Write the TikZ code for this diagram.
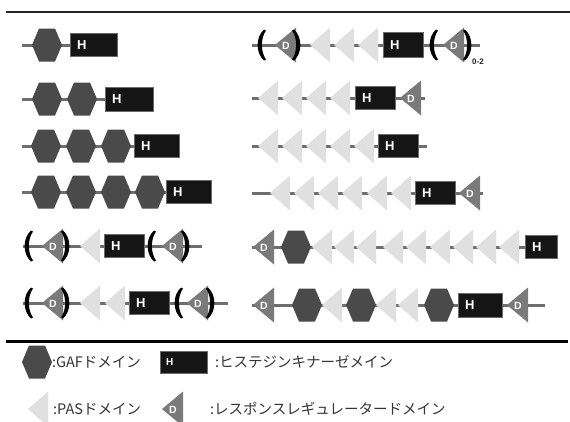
\documentclass[tikz,border=0pt]{standalone}
\usepackage{fontspec}
\setmainfont{Liberation Sans}
\newfontfamily\jpfont{Noto Sans CJK JP}
\definecolor{gafc}{HTML}{4A4A4A}
\definecolor{pasc}{HTML}{E0E0E0}
\definecolor{rrc}{HTML}{7A7A7A}
\definecolor{bbc}{HTML}{6E6E6E}
\definecolor{hkc}{HTML}{151515}
\definecolor{hkb}{HTML}{6A6A6A}
\definecolor{txtc}{HTML}{353535}
\newcommand\hkbox[5]{%
  \node[hk,minimum width=#3-#2,minimum height=#5,anchor=west] (#1) at (#2,#4) {};
  \node[hlab,anchor=west] (#1t) at ([xshift=7]#1.west) {H};}
\newcommand\bbline[4]{%
  \coordinate (#1s) at (#2,#4); \coordinate (#1e) at (#3,#4);
  \draw[bb] (#1s) -- (#1e);}
\begin{document}
\begin{tikzpicture}[x=1pt,y=-1pt,
  bb/.style={draw=bbc,line width=3pt},
  hk/.style={draw=hkb,fill=hkc,line width=0.8pt,inner sep=0pt},
  hlab/.style={text=white,font=\bfseries\fontsize{13}{13}\selectfont,inner sep=0pt},
  dlab/.style={text=white,font=\bfseries\fontsize{10.5}{10.5}\selectfont,inner sep=0pt},
  leg/.style={text=txtc,font=\jpfont\fontsize{14.5}{15}\selectfont,anchor=west,inner sep=0pt},
  gaf/.pic={\fill[gafc] (-15,0) -- (-8,-16.5) -- (8,-16.5) -- (15,0) -- (8,16.5) -- (-8,16.5) -- cycle;},
  pas/.pic={\fill[pasc] (0,0) -- (20,-17.5) -- (20,17.5) -- cycle;},
  rr/.pic={\fill[rrc] (0,0) -- (21,-17.5) -- (21,17.5) -- cycle; \node[dlab] (-d) at (11,0.5) {D};},
  lpar/.pic={\fill[black] (4,-15.5) .. controls (-4.5,-8) and (-4.5,8) .. (4,15.5) -- (6,14.5) .. controls (0.5,7) and (0.5,-7) .. (6,-14.5) -- cycle;},
  rpar/.pic={\fill[black] (-4,-15.5) .. controls (4.5,-8) and (4.5,8) .. (-4,15.5) -- (-6,14.5) .. controls (-0.5,7) and (-0.5,-7) .. (-6,-14.5) -- cycle;}
]
\useasboundingbox (0,0) rectangle (570,421);
\fill[white] (0,0) rectangle (570,421);
% rules
\coordinate (ra) at (6,12); \coordinate (rb) at (570,12);
\draw[line width=2.5pt,black!85] (ra) -- (rb);
\coordinate (rc) at (6,341); \coordinate (rd) at (568,341);
\draw[line width=3pt,black] (rc) -- (rd);

% ---------- left column ----------
% L1
\bbline{l1}{22}{117}{45}
\pic at (47,45) {gaf};
\hkbox{l1h}{70}{117}{45}{23}
% L2
\bbline{l2}{22}{153}{99}
\pic at (47,99) {gaf}; \pic at (82,99) {gaf};
\hkbox{l2h}{105}{153}{99}{24}
% L3
\bbline{l3}{22}{179}{146}
\pic at (46,146) {gaf}; \pic at (81,146) {gaf}; \pic at (116,146) {gaf};
\hkbox{l3h}{134}{179}{146}{23}
% L4
\bbline{l4}{22}{211}{192}
\pic at (46,192) {gaf}; \pic at (81,192) {gaf}; \pic at (116,192) {gaf}; \pic at (150,192) {gaf};
\hkbox{l4h}{166}{211}{192}{23}
% L5
\bbline{l5}{23}{202}{246}
\pic at (27,246) {lpar}; \pic (l5d1) at (42,246) {rr}; \pic at (67,246) {rpar};
\pic at (80,246) {pas};
\hkbox{l5h}{104}{144}{246}{23}
\pic at (150,246) {lpar}; \pic (l5d2) at (162,246) {rr}; \pic at (187,246) {rpar};
% L6
\bbline{l6}{23}{228}{303}
\pic at (27,303) {lpar}; \pic (l6d1) at (42,303) {rr}; \pic at (67,303) {rpar};
\pic at (80,303) {pas}; \pic at (105,303) {pas};
\hkbox{l6h}{129}{169}{303}{23}
\pic at (177,303) {lpar}; \pic (l6d2) at (187,303) {rr}; \pic at (212,303) {rpar};

% ---------- right column ----------
% R1
\bbline{r1}{252}{480}{45}
\pic at (260,45) {lpar}; \pic (r1d1) at (275,45) {rr}; \pic at (298,45) {rpar};
\pic at (310,45) {pas}; \pic at (334,45) {pas}; \pic at (358,45) {pas};
\hkbox{r1h}{383}{423}{45}{25}
\pic at (432,45) {lpar}; \pic (r1d2) at (443,45) {rr}; \pic at (469,45) {rpar};
\node[font=\bfseries\fontsize{8}{8}\selectfont,text=black!85,inner sep=0pt,anchor=west] (r1n) at (472,62) {0-2};
% R2
\bbline{r2}{252}{425}{98}
\pic at (258,98) {pas}; \pic at (282,98) {pas}; \pic at (306,98) {pas}; \pic at (330,98) {pas};
\hkbox{r2h}{355}{395}{98}{23}
\pic (r2d) at (400,98) {rr};
% R3
\bbline{r3}{252}{427}{146}
\pic at (258,146) {pas}; \pic at (282,146) {pas}; \pic at (306,146) {pas}; \pic at (330,146) {pas}; \pic at (354,146) {pas};
\hkbox{r3h}{378}{418}{146}{23}
% R4
\bbline{r4}{252}{483}{193}
\pic at (270,193) {pas}; \pic at (294,193) {pas}; \pic at (318,193) {pas}; \pic at (342,193) {pas}; \pic at (367,193) {pas}; \pic at (391,193) {pas};
\hkbox{r4h}{415}{455}{193}{23}
\pic (r4d) at (459,193) {rr};
% R5
\bbline{r5}{252}{525}{247}
\pic (r5d) at (253,247) {rr};
\pic at (296,247) {gaf};
\pic at (312,247) {pas}; \pic at (334,247) {pas}; \pic at (356,247) {pas};
\pic at (383,247) {pas}; \pic at (406,247) {pas}; \pic at (430,247) {pas};
\pic at (453,247) {pas}; \pic at (476,247) {pas}; \pic at (499,247) {pas};
\hkbox{r5h}{525}{557}{247}{23}
% R6
\bbline{r6}{252}{545}{305}
\pic (r6d1) at (253,305) {rr};
\pic at (307,305) {gaf};
\pic at (322,305) {pas};
\pic at (361,305) {gaf};
\pic at (376,305) {pas}; \pic at (398,305) {pas};
\pic at (439,305) {gaf};
\hkbox{r6h}{458}{502}{305}{24}
\pic (r6d2) at (507,305) {rr};

% ---------- legend ----------
\pic at (37,362) {gaf};
\node[leg] (lg1) at (52,362) {:GAFドメイン};
\node[hk,minimum width=47,minimum height=22,anchor=west] (lgh) at (160,362) {};
\node[text=white,font=\bfseries\fontsize{10}{10}\selectfont,inner sep=0pt,anchor=west] (lght) at ([xshift=6]lgh.west) {H};
\node[leg] (lg2) at (215,362) {:ヒステジンキナーゼメイン};
\pic at (28,409) {pas};
\node[leg] (lg3) at (53,409) {:PASドメイン};
\pic (lgd) at (162,409) {rr};
\node[leg] (lg4) at (210,409) {:レスポンスレギュレータードメイン};
\end{tikzpicture}
\end{document}
